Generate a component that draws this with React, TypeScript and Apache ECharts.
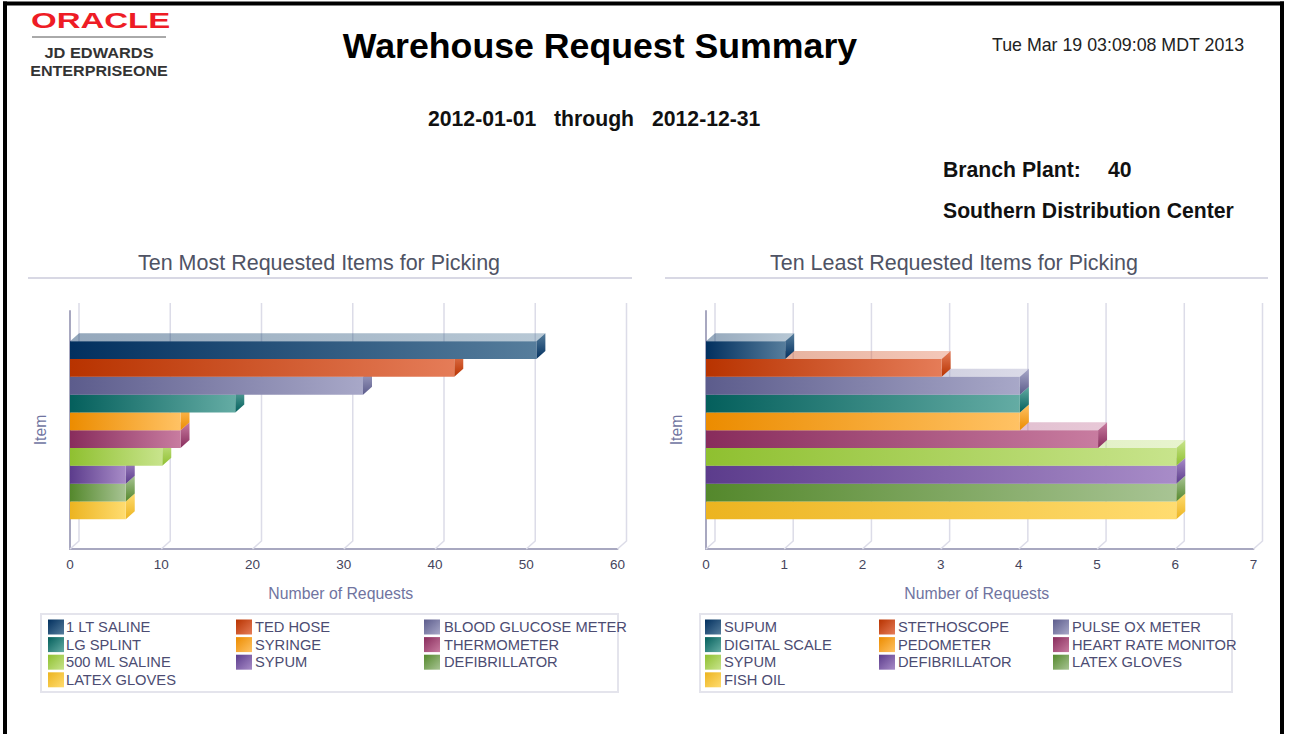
import React, { useEffect, useRef } from "react";
import * as echarts from "echarts";

const mostItems = ["1 LT SALINE", "TED HOSE", "BLOOD GLUCOSE METER", "LG SPLINT", "SYRINGE", "THERMOMETER", "500 ML SALINE", "SYPUM", "DEFIBRILLATOR", "LATEX GLOVES"];
const mostValues = [51, 42, 32, 18, 12, 12, 10, 6, 6, 6];
const leastItems = ["SUPUM", "STETHOSCOPE", "PULSE OX METER", "DIGITAL SCALE", "PEDOMETER", "HEART RATE MONITOR", "SYPUM", "DEFIBRILLATOR", "LATEX GLOVES", "FISH OIL"];
const leastValues = [1, 3, 4, 4, 4, 5, 6, 6, 6, 6];
const mostTicks = [0, 10, 20, 30, 40, 50, 60];
const leastTicks = [0, 1, 2, 3, 4, 5, 6, 7];
const darkColors = ["#02305f", "#b83300", "#5c5c8c", "#045f5c", "#ec8c00", "#882c5c", "#8fc030", "#5c3c8c", "#54882c", "#ecb420"];
const lightColors = ["#567d9c", "#e57c58", "#a8a8c8", "#64aca4", "#ffc264", "#c87ca0", "#c8e48c", "#a88cc8", "#a8c494", "#ffdc70"];

const FONT = "Liberation Sans";
const DX = 9;
const DY = 8;

function grad(a: string, b: string, x2 = 1, y2 = 0) {
  return new echarts.graphic.LinearGradient(0, 0, x2, y2, [
    { offset: 0, color: a },
    { offset: 1, color: b },
  ]);
}

function barRenderer(i: number) {
  return (_p: any, api: any) => {
    const v = api.value(0);
    const idx = api.value(1);
    const tl = api.coord([0, idx - 0.5]);
    const br = api.coord([v, idx + 0.5]);
    const x0 = tl[0], y0 = tl[1], x1 = br[0] + 1, y1 = br[1];
    return {
      type: "group",
      children: [
        {
          type: "polygon",
          shape: { points: [[x0, y0], [x0 + DX, y0 - DY], [x1 + DX, y0 - DY], [x1, y0]] },
          style: { fill: grad(darkColors[i], lightColors[i], 1, 0), opacity: 0.42 },
          silent: true,
        },
        {
          type: "polygon",
          shape: { points: [[x1, y0], [x1 + DX, y0 - DY], [x1 + DX, y1 - DY], [x1, y1]] },
          style: { fill: grad(lightColors[i], darkColors[i], 0, 1) },
          silent: true,
        },
        {
          type: "rect",
          shape: { x: x0, y: y0, width: x1 - x0, height: y1 - y0 },
          style: { fill: grad(darkColors[i], lightColors[i]) },
          silent: true,
        },
      ],
    };
  };
}

function wallRenderer(yMin: number, yMax: number) {
  return (_p: any, api: any) => {
    const v = api.value(0);
    const bottom = api.coord([v, yMax]);
    const top = api.coord([v, yMin]);
    return {
      type: "polyline",
      shape: { points: [[bottom[0], bottom[1]], [bottom[0] + DX, bottom[1] - DY], [bottom[0] + DX, top[1] - DY]] },
      style: { fill: "none", stroke: "#dcdce8", lineWidth: 1.5 },
      silent: true,
    };
  };
}

const Y_MIN = -2.2;
const Y_MAX = 11.17;

function chartSeries(names: string[], values: number[], ticks: number[], axisIndex: number) {
  const out: any[] = [
    {
      type: "custom",
      name: "grid" + axisIndex,
      xAxisIndex: axisIndex,
      yAxisIndex: axisIndex,
      z: 1,
      renderItem: wallRenderer(Y_MIN, Y_MAX),
      data: ticks.map((t) => [t]),
      encode: { x: 0 },
      clip: false,
    },
  ];
  names.forEach((n, i) => {
    out.push({
      type: "custom",
      name: n,
      xAxisIndex: axisIndex,
      yAxisIndex: axisIndex,
      z: 12 - i,
      itemStyle: { color: darkColors[i] },
      renderItem: barRenderer(i),
      data: [[values[i], i]],
      encode: { x: 0, y: 1 },
      clip: false,
    });
  });
  return out;
}

function legendColumns(names: string[], lefts: number[], pads: number[]) {
  return lefts.map((left, col) => ({
    left,
    top: 619.5,
    orient: "vertical",
    padding: 0,
    itemWidth: 16,
    itemHeight: 15,
    itemGap: 2.6,
    selectedMode: false,
    icon: "rect",
    textStyle: {
      fontFamily: FONT,
      fontSize: 14.7,
      color: "#4c4c72",
      padding: [0, 0, 0, pads[col]],
    },
    data: names
      .map((name, i) => ({ name, i }))
      .filter((d) => d.i % 3 === col)
      .map((d) => ({
        name: d.name,
        itemStyle: { color: grad(darkColors[d.i], lightColors[d.i], 1, 1), borderWidth: 0 },
      })),
  }));
}

function xAxisOf(gridIndex: number, max: number, interval: number) {
  return {
    type: "value",
    gridIndex,
    min: 0,
    max,
    interval,
    name: "Number of Requests",
    nameLocation: "middle",
    nameGap: 36,
    nameTextStyle: { fontFamily: FONT, fontSize: 15.8, color: "#70749f", padding: [0, 6, 0, 0] },
    axisLine: { show: true, onZero: false, lineStyle: { color: "#a8a8c0", width: 2 } },
    axisTick: { show: false },
    splitLine: { show: false },
    axisLabel: { fontFamily: FONT, fontSize: 13.5, color: "#45455c", margin: 8 },
  };
}

function yAxisOf(gridIndex: number) {
  return {
    type: "value",
    gridIndex,
    inverse: true,
    min: Y_MIN,
    max: Y_MAX,
    name: "Item",
    nameLocation: "middle",
    nameGap: 22,
    nameTextStyle: { fontFamily: FONT, fontSize: 15.8, color: "#70749f" },
    axisLine: { show: true, onZero: false, lineStyle: { color: "#a8a8c0", width: 2 } },
    axisTick: { show: false },
    splitLine: { show: false },
    axisLabel: { show: false },
  };
}

function txt(text: string, x: number, y: number, font: string, fill: string, align = "left") {
  return {
    type: "text",
    x,
    y,
    silent: true,
    style: { text, font, fill, textAlign: align, textVerticalAlign: "middle" },
  };
}

function line(x1: number, y1: number, x2: number, y2: number, stroke: string, lineWidth: number) {
  return { type: "line", silent: true, shape: { x1, y1, x2, y2 }, style: { stroke, lineWidth } };
}

function box(x: number, y: number, width: number, height: number) {
  return { type: "rect", silent: true, shape: { x, y, width, height }, style: { fill: "none", stroke: "#e4e4ec", lineWidth: 2 } };
}

const App = () => {
  const ref = useRef<HTMLDivElement>(null);
  useEffect(() => {
    document.body.style.margin = "0";
    const chart = echarts.init(ref.current!, undefined, { renderer: "svg" });
    chart.setOption({
      animation: false,
      backgroundColor: "#ffffff",
      title: [
        { text: "Ten Most Requested Items for Picking", left: 314, top: 247, textAlign: "center", textStyle: { fontFamily: FONT, fontSize: 21.5, fontWeight: "normal", color: "#4f5364" } },
        { text: "Ten Least Requested Items for Picking", left: 949, top: 247, textAlign: "center", textStyle: { fontFamily: FONT, fontSize: 21.5, fontWeight: "normal", color: "#4f5364" } },
      ],
      grid: [
        { left: 70, top: 311, width: 547.5, height: 238 },
        { left: 706, top: 311, width: 547.5, height: 238 },
      ],
      xAxis: [xAxisOf(0, 60, 10), xAxisOf(1, 7, 1)],
      yAxis: [yAxisOf(0), yAxisOf(1)],
      legend: [
        ...legendColumns(mostItems, [48, 236, 424], [-3, -2, -1]),
        ...legendColumns(leastItems, [705, 879, 1053], [-2, -2, -2]),
      ],
      series: [
        ...chartSeries(mostItems, mostValues, mostTicks, 0),
        ...chartSeries(leastItems, leastValues, leastTicks, 1),
      ],
      graphic: [
        { type: "rect", silent: true, shape: { x: 3, y: 1.5, width: 4, height: 733 }, style: { fill: "#000" } },
        { type: "rect", silent: true, shape: { x: 1280, y: 1.5, width: 4, height: 733 }, style: { fill: "#000" } },
        { type: "rect", silent: true, shape: { x: 3, y: 1.5, width: 1281, height: 4 }, style: { fill: "#000" } },
        { ...txt("ORACLE", 0, 0, `bold 22px "${FONT}"`, "#ee1c25"), x: 31, y: 21, scaleX: 1.5 },
        line(32, 37, 166, 37, "#555", 1),
        { ...txt("JD EDWARDS", 0, 0, `bold 14px "${FONT}"`, "#333", "center"), x: 99, y: 53, scaleX: 1.17 },
        { ...txt("ENTERPRISEONE", 0, 0, `bold 14px "${FONT}"`, "#333", "center"), x: 99, y: 71, scaleX: 1.15 },
        txt("Warehouse Request Summary", 600, 46, `bold 35.7px "${FONT}"`, "#000", "center"),
        txt("Tue Mar 19 03:09:08 MDT 2013", 992, 45, `17.8px "${FONT}"`, "#222"),
        txt("2012-01-01", 428, 118, `bold 21.2px "${FONT}"`, "#111"),
        txt("through", 554, 118, `bold 21.2px "${FONT}"`, "#111"),
        txt("2012-12-31", 652, 118, `bold 21.2px "${FONT}"`, "#111"),
        txt("Branch Plant:", 943, 169, `bold 21.2px "${FONT}"`, "#111"),
        txt("40", 1108, 169, `bold 21.2px "${FONT}"`, "#111"),
        txt("Southern Distribution Center", 943, 210, `bold 21.2px "${FONT}"`, "#111"),
        line(28, 278, 632, 278, "#d8d8e4", 2),
        line(665, 278, 1268, 278, "#d8d8e4", 2),
        box(41, 614, 577, 78),
        box(700, 614, 532, 78),
      ],
    });
    return () => chart.dispose();
  }, []);
  return <div ref={ref} style={{ position: "absolute", left: 0, top: 0, width: 1290, height: 734 }} />;
};

export default App;
